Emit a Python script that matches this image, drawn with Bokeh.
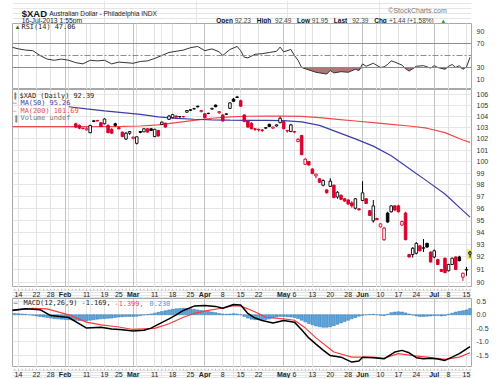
import numpy as np
from bokeh.plotting import figure
from bokeh.layouts import column
from bokeh.models import (ColumnDataSource, FixedTicker, Grid, Label, Span, Range1d,
                          PrintfTickFormatter)
from bokeh.core.properties import value
from bokeh.embed import file_html
from bokeh.resources import INLINE

# ---------------- data (x = trading-day index, 0 = 14-Jan-2013) ----------------
tick_days = [0, 5, 9, 13, 19, 24, 28, 32, 38, 43, 48, 52, 57, 62, 67, 74, 77, 82, 87, 92,
             96, 101, 106, 111, 116, 120, 125]
tick_labels = ["14", "22", "28", "Feb", "11", "19", "25", "Mar", "11", "18", "25", "Apr", "8",
               "15", "22", "May", "6", "13", "20", "28", "Jun", "10", "17", "24", "Jul", "8", "15"]
extra_week_days = [14, 33]

candle_days = list(range(16, 127))
opens = [103.35, 103.2, 102.95, 102.8, 102.55, 103.55, 103.65, 103.45, 103.35, 103.2,
         102.85, 103.35, 103.0, 102.6, 101.98, 102.5, 102.05, 101.6, 102.65, 102.62,
         102.9, 102.9, 102.2, 102.75, 103.3, 103.4, 103.75, 103.9, 104.05, 103.98,
         104.0, 104.4, 104.62, 104.7, 104.95, 104.45, 104.25, 104.28, 104.68, 105.05,
         104.35, 104.15, 104.2, 104.75, 105.6, 105.8, 105.45, 104.15, 103.6, 103.4,
         102.9, 102.85, 102.8, 102.95, 103.3, 102.95, 103.15, 103.45, 103.55, 102.75,
         102.65, 102.65, 101.75, 102.3, 99.75, 100.0, 99.35, 98.75, 98.5, 97.95,
         97.55, 97.85, 97.95, 96.95, 97.1, 96.8, 96.7, 96.45, 96.0, 95.95,
         96.65, 96.8, 95.8, 94.95, 95.15, 94.45, 93.4, 95.6, 95.7, 96.2,
         96.2, 94.6, 95.6, 92.2, 92.2, 92.3, 92.9, 92.7, 93.1, 92.4,
         92.0, 91.8, 91.0, 91.9, 90.9, 91.4, 92.0, 92.0, 90.4, 90.95,
         92.23]
highs = [103.45, 103.3, 103.0, 103.05, 103.25, 103.7, 103.7, 103.5, 103.85, 103.3,
         102.95, 103.45, 103.1, 102.65, 102.6, 102.7, 102.2, 102.2, 102.7, 102.95,
         102.95, 102.95, 102.9, 102.8, 103.55, 103.45, 104.15, 104.25, 104.1, 104.05,
         104.05, 104.6, 104.65, 104.8, 105.0, 104.6, 104.3, 104.35, 104.8, 105.1,
         104.5, 104.2, 104.3, 105.3, 105.7, 105.9, 105.55, 104.2, 103.7, 103.5,
         102.95, 102.9, 102.85, 103.05, 103.35, 103.1, 103.3, 104.0, 103.6, 102.8,
         103.35, 102.7, 102.05, 102.35, 100.3, 100.05, 99.4, 98.95, 98.55, 98.45,
         97.6, 98.55, 98.0, 97.45, 97.15, 96.85, 96.75, 96.6, 96.85, 96.0,
         98.3, 96.85, 95.85, 96.7, 95.2, 94.75, 94.45, 95.7, 96.25, 96.25,
         96.3, 94.95, 95.7, 92.25, 92.8, 93.2, 92.95, 93.45, 93.15, 92.45,
         92.6, 91.85, 91.05, 91.95, 91.45, 91.95, 92.05, 92.1, 90.75, 91.2,
         92.49]
lows = [102.95, 102.85, 102.85, 102.75, 102.5, 103.5, 103.55, 103.05, 103.3, 102.5,
        102.45, 103.1, 102.85, 102.15, 101.9, 102.35, 101.95, 101.5, 102.5, 102.6,
        102.55, 102.7, 102.15, 102.2, 103.25, 103.0, 103.7, 103.85, 103.9, 103.9,
        103.92, 104.35, 104.5, 104.65, 104.85, 104.4, 103.85, 104.22, 104.62, 104.85,
        104.25, 103.55, 104.15, 104.7, 105.35, 105.7, 104.9, 103.5, 103.0, 102.85,
        102.7, 102.65, 102.6, 102.9, 103.05, 102.9, 103.1, 103.4, 102.85, 102.55,
        102.6, 102.5, 101.7, 100.55, 99.7, 99.6, 98.9, 98.55, 98.15, 97.85,
        97.25, 97.8, 96.85, 96.8, 96.7, 96.55, 96.3, 96.05, 95.9, 95.8,
        96.6, 96.35, 95.35, 94.8, 95.0, 94.4, 93.3, 94.8, 95.65, 95.75,
        95.65, 94.55, 93.35, 91.95, 91.95, 92.2, 92.45, 92.4, 92.75, 91.55,
        91.9, 91.35, 90.8, 90.7, 90.85, 91.35, 90.95, 91.65, 90.1, 90.5,
        91.95]
closes = [103.05, 102.95, 102.92, 102.9, 103.2, 103.62, 103.6, 103.1, 103.78, 102.55,
          102.5, 103.2, 102.9, 102.2, 102.5, 102.65, 102.15, 102.18, 102.58, 102.9,
          102.6, 102.75, 102.85, 102.25, 103.5, 103.05, 104.05, 104.18, 103.95, 104.0,
          103.98, 104.55, 104.58, 104.72, 104.88, 104.55, 103.9, 104.3, 104.75, 104.9,
          104.45, 103.6, 104.25, 105.25, 105.4, 105.75, 104.95, 103.55, 103.05, 102.9,
          102.85, 102.8, 102.75, 103.0, 103.1, 103.05, 103.25, 103.85, 102.9, 102.7,
          103.25, 102.6, 101.95, 100.6, 100.2, 99.7, 98.95, 98.9, 98.2, 98.35,
          97.3, 98.3, 96.9, 97.35, 96.75, 96.6, 96.35, 96.2, 96.8, 95.88,
          97.3, 96.4, 95.4, 96.2, 95.05, 94.7, 94.35, 94.85, 96.2, 95.85,
          95.7, 94.9, 93.4, 92.0, 92.7, 93.1, 92.5, 92.75, 92.8, 91.6,
          92.5, 91.4, 90.85, 90.75, 91.4, 91.9, 91.0, 91.7, 90.7, 91.0,
          92.39]
close_before_first = 103.4

ma50_days = [14, 19, 24, 29, 34, 39, 44, 49, 54, 59, 64, 69, 74, 79, 84, 89, 94, 99, 104,
             109, 114, 119, 124, 126]
ma50 = [104.9, 104.7, 104.52, 104.36, 104.2, 103.97, 103.84, 103.76, 103.71, 103.68, 103.66,
        103.65, 103.64, 103.52, 103.2, 102.6, 102.0, 101.35, 100.5, 99.4, 98.3, 97.2, 95.8, 95.26]
ma200_days = [-2, 9, 19, 29, 34, 39, 44, 49, 54, 59, 64, 69, 74, 79, 84, 89, 94, 99, 104,
              109, 114, 119, 124, 126]
ma200 = [103.1, 103.1, 103.1, 103.12, 103.15, 103.25, 103.45, 103.65, 103.85, 103.97, 104.03,
         104.05, 104.05, 104.02, 103.9, 103.75, 103.6, 103.45, 103.3, 103.15, 102.95, 102.55,
         101.9, 101.69]

rsi_days = [-2, 0, 2, 4, 6, 8, 10, 12, 14, 16, 18, 20, 22, 24, 26, 28, 30, 32, 34, 36,
            38, 40, 42, 44, 46, 48, 50, 52, 54, 56, 57, 59, 61, 62, 63, 64, 66, 68, 70, 72,
            73, 74, 76, 77, 78, 79, 81, 83, 85, 86, 87, 88, 90, 92, 94, 95, 96, 97, 99, 101,
            102, 103, 104, 105, 107, 108, 109, 110, 111, 113, 115, 116, 117, 119, 120, 121,
            122, 123, 124, 125, 126]
rsi = [64, 61, 59, 58, 50, 44, 42, 44, 42, 38, 36, 42, 41, 42, 36, 39, 38, 37, 40, 41,
       45, 50, 55, 57, 59, 63, 65, 58, 61, 56, 50, 60, 65, 58, 47, 46, 52, 53, 55, 57,
       64, 56, 60, 50, 42, 30, 26, 22, 20, 19, 25, 21, 23, 22, 27, 25, 36, 32, 37, 30,
       31, 35, 41, 39, 34, 28, 24, 28, 32, 33, 29, 33, 30, 27, 32, 35, 30, 33, 27, 31, 47.06]

macd_days = [-2, 2, 6, 9, 14, 19, 23, 26, 29, 32, 35, 37, 39, 42, 44, 46, 49, 52, 55, 57,
             60, 62, 64, 66, 68, 71, 74, 77, 79, 81, 83, 85, 87, 90, 93, 95, 96, 99, 102, 105,
             107, 109, 111, 113, 115, 117, 119, 121, 123, 126]
macd = [0.16, 0.22, 0.19, -0.03, -0.10, -0.49, -0.46, -0.52, -0.55, -0.60,
        -0.57, -0.49, -0.35, -0.15, 0.0, 0.16, 0.32, 0.34, 0.31, 0.24,
        0.38, 0.36, 0.05, -0.12, -0.21, -0.30, -0.21, -0.27, -0.55, -0.85,
        -1.08, -1.30, -1.50, -1.56, -1.74, -1.70, -1.56, -1.58, -1.62, -1.37,
        -1.31, -1.40, -1.58, -1.62, -1.60, -1.63, -1.68, -1.56, -1.43, -1.169]
signal_days = [-2, 4, 8, 14, 19, 23, 28, 32, 38, 42, 46, 49, 53, 57, 60, 62, 64, 67, 69, 74,
               77, 80, 83, 88, 93, 99, 102, 106, 110, 114, 119, 123, 126]
signal = [0.16, 0.24, 0.22, 0.0, -0.27, -0.37, -0.45, -0.54, -0.50, -0.33, -0.09, 0.05, 0.16,
          0.25, 0.34, 0.32, 0.22, 0.05, -0.09, -0.15, -0.20, -0.48, -0.85, -1.37, -1.56, -1.56,
          -1.60, -1.43, -1.50, -1.56, -1.64, -1.56, -1.399]
hist_days = list(range(-2, 127))
hist = [0.06, 0.05, 0.04, 0.03, 0.02, 0.0,
        -0.02, -0.04, -0.06, -0.08, -0.10,
        -0.12, -0.14, -0.15, -0.16, -0.17,
        -0.18, -0.19, -0.2, -0.21, -0.22, -0.22,
        -0.2, -0.18, -0.16, -0.15, -0.14, -0.13,
        -0.12, -0.1, -0.08, -0.07, -0.06, -0.06,
        -0.06, -0.05, -0.03, -0.01, 0.01, 0.03,
        0.06, 0.09, 0.12, 0.15, 0.18, 0.2,
        0.22, 0.23, 0.24, 0.23, 0.22, 0.2,
        0.18, 0.16, 0.14, 0.12, 0.1, 0.08,
        0.05, 0.03, 0.02, 0.03, 0.04, 0.03,
        0.0, -0.06, -0.12, -0.16, -0.18, -0.18,
        -0.18, -0.17, -0.15, -0.12, -0.08, -0.06,
        -0.06, -0.07, -0.08, -0.1, -0.14, -0.2,
        -0.26, -0.32, -0.37, -0.41, -0.44, -0.46,
        -0.46, -0.44, -0.4, -0.35, -0.3, -0.25,
        -0.2, -0.15, -0.1, -0.05, -0.02, 0.0,
        0.01, 0.02, 0.0, -0.02, -0.03, 0.02,
        0.08, 0.1, 0.11, 0.1, 0.07, 0.03,
        -0.01, -0.04, -0.06, -0.06, -0.05, -0.04,
        -0.03, -0.03, -0.04, -0.03, 0.02, 0.06,
        0.1, 0.13, 0.15, 0.18, 0.23]

price_ticks = list(range(90, 107))
rsi_ticks = [10, 30, 70, 90]
macd_ticks = [-1.5, -1.0, -0.5, 0.0, 0.5]

header_stats = [("Open", "92.23"), ("High", "92.49"), ("Low", "91.95"), ("Last", "92.39"),
                ("Chg", "+1.44 (+1.58%)")]
last_rsi = 47.06
last_ma50 = 95.26
last_ma200 = 101.69
last_close = 92.39
last_macd, last_signal, last_hist = -1.169, -1.399, 0.230

# ---------------- styling / layout ----------------
W = 500
BL, BR = 12, 29          # frame spans x 12..471
SANS = "Liberation Sans"
MONO = "DejaVu Sans Mono"
RED = "#d8002c"
BLUE_MA = "#3d3da8"
RED_MA = "#f04848"
xr = Range1d(-1.67, 126.4)

month_days = [d for d, t in zip(tick_days, tick_labels) if t.isalpha()]
week_days = sorted([d for d, t in zip(tick_days, tick_labels) if not t.isalpha()] + extra_week_days)


def panel(h, yr, log=False):
    p = figure(width=W, height=h, x_range=xr, y_range=yr,
               y_axis_type="log" if log else "linear",
               x_axis_location=None, y_axis_location="right",
               output_backend="svg", toolbar_location=None,
               min_border_left=BL, min_border_right=BR, min_border_top=0, min_border_bottom=0)
    p.outline_line_color = "#a8a8a8"
    ax = p.yaxis[0]
    ax.axis_line_color = None
    ax.major_tick_line_color = None
    ax.minor_tick_line_color = None
    ax.major_tick_out = 0
    ax.major_tick_in = 0
    ax.major_label_standoff = 5
    ax.major_label_text_font = SANS
    ax.major_label_text_font_size = "7px"
    ax.major_label_text_color = "#333333"
    p.ygrid.grid_line_color = None
    p.add_layout(Grid(dimension=0, ticker=FixedTicker(ticks=week_days),
                      grid_line_color="#e2e2e2", grid_line_width=1))
    p.add_layout(Grid(dimension=0, ticker=FixedTicker(ticks=month_days),
                      grid_line_color="#c2c2c2", grid_line_width=1))
    return p


def value_box(p, yv, txt, border, bg="white", color="#111111"):
    p.add_layout(Label(x=126.9, y=yv, x_units="data", y_units="data", text=txt,
                       text_font=SANS, text_font_size="7px", text_color=color,
                       text_align="left", text_baseline="middle",
                       background_fill_color=bg, border_line_color=border,
                       border_line_width=1, padding=1, border_radius=2))


def frame_label(p, x, y, txt, color="#222222", size="6.9px", font=MONO, style="normal"):
    p.add_layout(Label(x=x, y=y, x_units="screen", y_units="screen", text=txt,
                       text_font=font, text_font_size=size, text_color=color,
                       text_font_style=style, text_align="left", text_baseline="middle"))


# ---- header (0..23 px) ----
HH = 23
L1 = HH - 12.5
L2 = HH - 20
hdr = figure(width=W, height=HH, x_range=Range1d(0, W), y_range=Range1d(0, HH),
             x_axis_location=None, y_axis_location=None, output_backend="svg",
             toolbar_location=None, min_border=0)
hdr.outline_line_color = None
hdr.text(x=[10], y=[L1], text=["$XAD"], text_font=value(SANS), text_font_style="bold",
         text_font_size="9.5px", text_color="#111111", text_baseline="alphabetic")
hdr.text(x=[40], y=[L1], text=["Australian Dollar - Philadelphia INDX"],
         text_font=value(SANS), text_font_size="6.6px", text_color="#222222",
         text_baseline="alphabetic")
hdr.text(x=[473], y=[HH - 10], text=["\u00a9StockCharts.com"], text_font=value(SANS),
         text_font_size="7px", text_color="#777777", text_align="right",
         text_baseline="alphabetic")
hdr.text(x=[10], y=[L2], text=["16-Jul-2013 1:55pm"], text_font=value(SANS),
         text_font_size="6.8px", text_color="#222222", text_baseline="alphabetic")
lab_x = [222, 266, 310, 350, 394]
val_x = [242, 286, 326, 370, 410]
hdr.text(x=lab_x, y=[L2] * 5, text=[a for a, b in header_stats], text_font=value(SANS),
         text_font_style="bold", text_font_size="6.5px", text_color="#111111",
         text_baseline="alphabetic")
hdr.text(x=val_x, y=[L2] * 5, text=[b for a, b in header_stats], text_font=value(SANS),
         text_font_size="6.5px", text_color="#444444", text_baseline="alphabetic")
hdr.text(x=[466], y=[L2], text=["\u25b2"], text_font=value(SANS), text_font_size="6px",
         text_color="#2a9d2a", text_baseline="alphabetic")

# ---- RSI (23..89) ----
RH = 66
pr = panel(RH, Range1d(-6.7, 103.3))
pr.yaxis.ticker = FixedTicker(ticks=rsi_ticks)
pr.varea(x=rsi_days, y1=list(np.minimum(np.array(rsi, dtype=float), 30.0)), y2=30,
         fill_color="#a35e5e", fill_alpha=0.85)
pr.add_layout(Span(location=70, dimension="width", line_color="#8a8a8a", line_width=1))
pr.add_layout(Span(location=30, dimension="width", line_color="#8a8a8a", line_width=1))
pr.add_layout(Span(location=50, dimension="width", line_color="#8a8a8a", line_width=1,
                   line_dash="6 2 2 2"))
pr.line(rsi_days, rsi, line_color="#333333", line_width=1)
frame_label(pr, 2, RH - 3.5, "\u25b2", color="#2e6b2e", size="6px", font=SANS)
frame_label(pr, 9, RH - 3.5, "RSI(14) %.2f" % last_rsi)
value_box(pr, last_rsi, "%.2f" % last_rsi, "#777777")

# ---- price (89..287) ----
PH = 198
pp = panel(PH, Range1d(89.58, 106.49), log=True)
pp.yaxis.ticker = FixedTicker(ticks=price_ticks)
pp.yaxis.formatter = PrintfTickFormatter(format="%d")
pp.ygrid.ticker = FixedTicker(ticks=price_ticks)
pp.ygrid.grid_line_color = "#e6e6e6"

prev = [close_before_first] + closes[:-1]
col = ["#000000" if c >= pc else RED for c, pc in zip(closes, prev)]
fill = ["#ffffff" if c > o else cc for o, c, cc in zip(opens, closes, col)]
src = ColumnDataSource(dict(x=candle_days, o=opens, h=highs, l=lows, c=closes,
                            top=[max(o, c) for o, c in zip(opens, closes)],
                            bot=[min(o, c) for o, c in zip(opens, closes)],
                            col=col, fill=fill))
pp.line(ma200_days, ma200, line_color=RED_MA, line_width=1.2)
pp.line(ma50_days, ma50, line_color=BLUE_MA, line_width=1.2)
pp.quad(left=[candle_days[-1] - 0.85], right=[candle_days[-1] + 0.85],
        top=[highs[-1] * 1.0012], bottom=[lows[-1] * 0.9988],
        fill_color="#f6f03a", line_color=None)
pp.segment(x0="x", y0="l", x1="x", y1="h", line_color="col", line_width=1, source=src)
pp.vbar(x="x", width=0.72, top="top", bottom="bot", fill_color="fill", line_color="col",
        line_width=0.9, source=src)
frame_label(pp, 1, PH - 6, "\u2551", color="#111111", size="6px")
frame_label(pp, 7, PH - 6, "$XAD (Daily) %.2f" % last_close)
frame_label(pp, 0, PH - 13.5, "\u2014", color=BLUE_MA)
frame_label(pp, 8, PH - 13.5, "MA(50) %.2f" % last_ma50, color=BLUE_MA)
frame_label(pp, 0, PH - 21, "\u2014", color=RED_MA)
frame_label(pp, 8, PH - 21, "MA(200) %.2f" % last_ma200, color=RED_MA)
frame_label(pp, 1, PH - 28.5, "\u2590", color="#888888", size="6px")
frame_label(pp, 8, PH - 28.5, "Volume undef", color="#777777")
value_box(pp, last_ma200, "%.2f" % last_ma200, RED_MA)
value_box(pp, last_ma50, "%.2f" % last_ma50, BLUE_MA)
value_box(pp, last_close, "%.2f" % last_close, "#222222")


# ---- date strips ----
def date_strip(h):
    p = figure(width=W, height=h, x_range=xr, y_range=Range1d(0, 1),
               x_axis_location=None, y_axis_location=None, output_backend="svg",
               toolbar_location=None, min_border_left=BL, min_border_right=BR,
               min_border_top=0, min_border_bottom=0)
    p.outline_line_color = None
    p.segment(x0=hist_days, x1=hist_days, y0=[1.0] * len(hist_days), y1=[0.84] * len(hist_days),
              line_color="#b8b8b8", line_width=1)
    s = ColumnDataSource(dict(x=tick_days, t=tick_labels,
                              fstyle=["bold" if t.isalpha() else "normal" for t in tick_labels]))
    p.text(x="x", y=0.42, text="t", text_font=value(SANS), text_font_size="7px",
           text_font_style="fstyle", text_color="#222222", text_align="center",
           text_baseline="middle", source=s)
    return p


ds1 = date_strip(11)

# ---- MACD (298..367) ----
MH = 69
pm = panel(MH, Range1d(-1.94, 0.6))
pm.yaxis.ticker = FixedTicker(ticks=macd_ticks)
pm.yaxis.formatter = PrintfTickFormatter(format="%.1f")
pm.ygrid.ticker = FixedTicker(ticks=macd_ticks)
pm.ygrid.grid_line_color = "#e6e6e6"
pm.vbar(x=hist_days, top=hist, bottom=0, width=0.8, fill_color="#5aa6de",
        line_color="#2f74b3", line_width=0.5)
pm.line(signal_days, signal, line_color="#ff3b3b", line_width=1.2)
pm.line(macd_days, macd, line_color="#000000", line_width=1.5)
frame_label(pm, 1, MH - 4.5, "\u2014", color="#000000")
frame_label(pm, 11, MH - 4.5, "MACD(12,26,9) %.3f," % last_macd, color="#222222")
frame_label(pm, 102, MH - 4.5, "%.3f," % last_signal, color="#ff3b3b")
frame_label(pm, 137, MH - 4.5, "%.3f" % last_hist, color="#3d9ad8")
value_box(pm, last_hist, "%.3f" % last_hist, "#4a8fc8", bg="#d6e9f8")
value_box(pm, last_macd, "%.3f" % last_macd, "#222222")
value_box(pm, last_signal, "%.3f" % last_signal, "#ff5555")

ds2 = date_strip(11)

layout = column(hdr, pr, pp, ds1, pm, ds2, spacing=0)
open("out.html", "w").write(file_html(layout, INLINE))
